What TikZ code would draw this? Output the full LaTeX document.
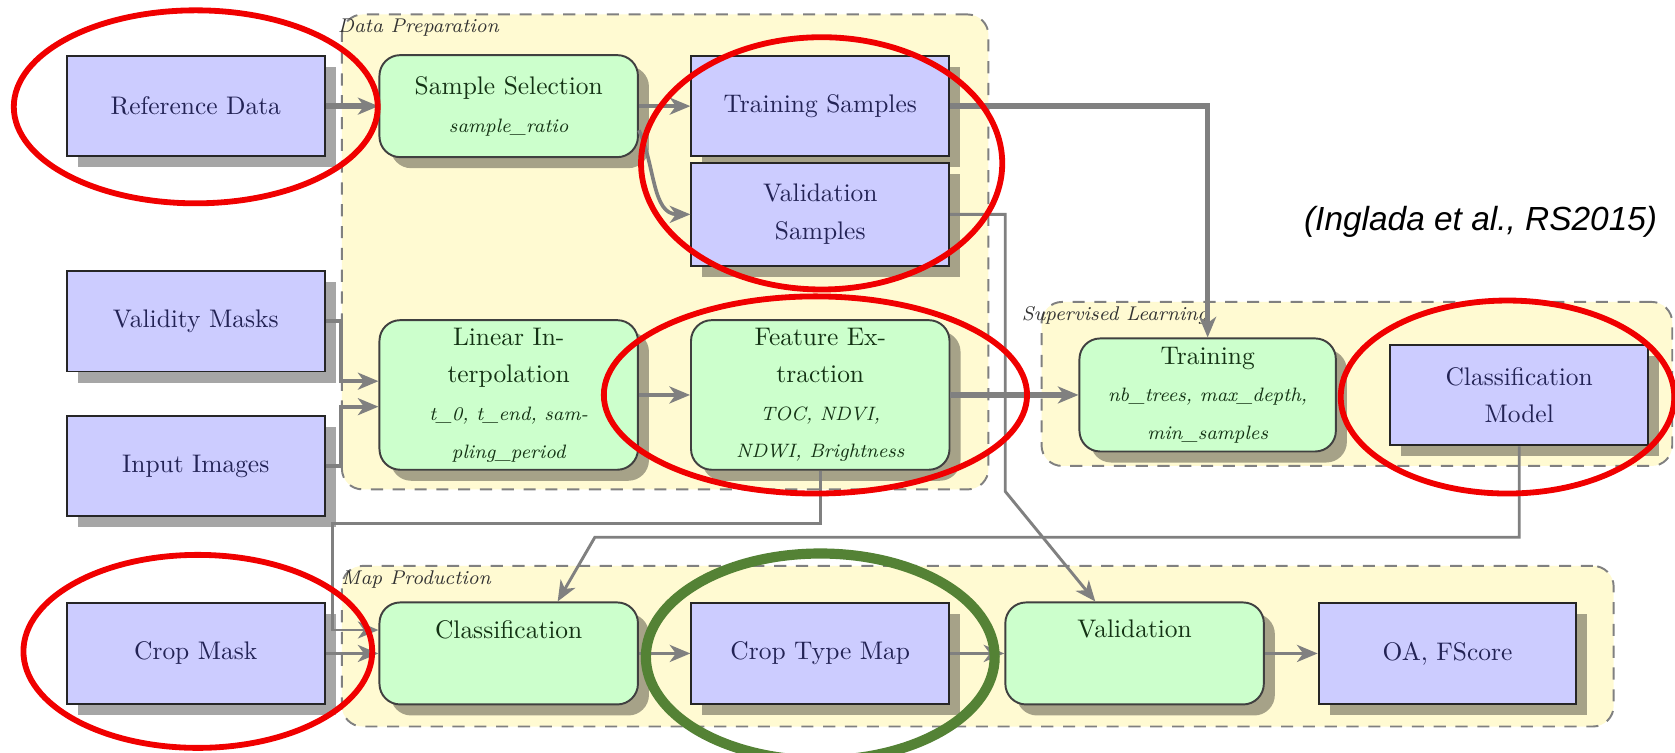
\documentclass[tikz,border=0pt]{standalone}
\usepackage{fontspec}
\newfontfamily\citefont{Liberation Sans}
\usetikzlibrary{arrows.meta,shadows}

\definecolor{boxblue}{RGB}{204,204,255}
\definecolor{boxgreen}{RGB}{204,255,204}
\definecolor{grpyellow}{RGB}{255,250,210}
\definecolor{linegray}{RGB}{128,128,128}
\definecolor{txtblue}{RGB}{35,35,85}
\definecolor{txtgreen}{RGB}{20,50,20}
\definecolor{markgreen}{RGB}{84,130,53}
\definecolor{markred}{RGB}{240,0,0}

\newcommand{\prm}[1]{{\fontsize{8}{15.5}\selectfont\itshape #1}}

\begin{document}
\begin{tikzpicture}[font=\fontsize{10.5}{15.5}\selectfont,
        boxshadow/.style={drop shadow={shadow xshift=.16cm,shadow yshift=-.16cm,fill=black,opacity=.35}},
        bluebox/.style={rectangle,draw=black!85,line width=.8pt,fill=boxblue,text=txtblue,align=center,minimum width=3.74cm,minimum height=1.46cm,inner sep=1pt,boxshadow},
        greenbox/.style={rectangle,rounded corners=.3cm,draw=black!75,line width=.8pt,fill=boxgreen,text=txtgreen,align=center,minimum width=3.75cm,minimum height=1.48cm,inner sep=1pt,boxshadow},
        grp/.style={rectangle,rounded corners=.3cm,draw=linegray,dash pattern=on 5pt off 4pt,line width=.8pt,fill=grpyellow},
        grplabel/.style={anchor=north west,inner sep=2pt,font=\fontsize{8.2}{9}\selectfont\itshape,text=black!80},
        conn/.style={draw=linegray,line width=1.5pt,-{Stealth[length=8.5pt,width=7pt,inset=2.5pt]}},
        ringred/.style={draw=markred,line width=2.4pt},
        ringgreen/.style={draw=markgreen,line width=4.2pt}]
        \useasboundingbox (0,0) rectangle (24.30,10.91);
        \draw (9.65,7.255) node[grp,minimum width=9.38cm,minimum height=6.89cm] (dataprep) {};
        \draw (19.685,5.34) node[grp,minimum width=9.15cm,minimum height=2.38cm] (suplearn) {};
        \draw (14.185,1.535) node[grp,minimum width=18.45cm,minimum height=2.33cm] (mapprod) {};
        \draw (dataprep.north west) node[grplabel,xshift=-.12cm] (dplabel) {Data Preparation};
        \draw (suplearn.north west) node[grplabel,xshift=-.35cm] (sllabel) {Supervised Learning};
        \draw (mapprod.north west) node[grplabel,xshift=-.07cm] (mplabel) {Map Production};
        \draw (2.84,9.37) node[bluebox] (refdata) {Reference Data};
        \draw (2.84,6.25) node[bluebox] (valmask) {Validity Masks};
        \draw (2.84,4.15) node[bluebox] (inimg) {Input Images};
        \draw (2.84,1.43) node[bluebox] (cropmask) {Crop Mask};
        \draw (7.38,9.37) node[greenbox] (samplesel) {Sample Selection\\\prm{sample\_ratio}};
        \draw (11.90,9.37) node[bluebox] (trainsmp) {Training Samples};
        \draw (11.90,7.80) node[bluebox,minimum height=1.49cm] (valsmp) {Validation\\Samples};
        \draw (7.38,5.18) node[greenbox,minimum height=2.17cm] (linint) {Linear In-\\terpolation\\\prm{t\_0, t\_end, sam-}\\\prm{pling\_period}};
        \draw (11.90,5.18) node[greenbox,minimum height=2.17cm] (featext) {Feature Ex-\\traction\\\prm{TOC, NDVI,}\\\prm{NDWI, Brightness}};
        \draw (17.52,5.18) node[greenbox,minimum width=3.72cm,minimum height=1.64cm] (training) {Training\\\prm{nb\_trees, max\_depth,}\\\prm{min\_samples}};
        \draw (22.04,5.18) node[bluebox] (clsmodel) {Classification\\Model};
        \draw (7.38,1.43) node[greenbox] (classif) {Classification\\\strut};
        \draw (11.90,1.43) node[bluebox] (croptype) {Crop Type Map};
        \draw (16.46,1.43) node[greenbox] (valid) {Validation\\\strut};
        \draw (21.00,1.43) node[bluebox] (oafs) {OA, FScore};
        \draw[conn,line width=2.2pt] (refdata) -- (samplesel);
        \draw[conn] (samplesel) -- (trainsmp);
        \draw[conn] ([yshift=-.35cm]samplesel.east) to[out=-65,in=180] (valsmp.west);
        \draw[conn] (valmask.east) -- ++(.22,0) |- ([yshift=.2cm]linint.west);
        \draw[conn] (inimg.east) -- ++(.22,0) |- ([yshift=-.17cm]linint.west);
        \draw[conn] (linint) -- (featext);
        \draw[conn,line width=2.2pt] (featext) -- (training);
        \draw[conn,line width=2.2pt] (trainsmp.east) -| (training.north);
        \draw[conn,line width=1.2pt] (valsmp.east) -- ++(.8,0) -- ++(0,-4.02) -- ([xshift=-.57cm]valid.north);
        \draw[conn,line width=1.2pt] (clsmodel.south) -- ++(0,-1.32) -- ++(-13.41,0) -- ([xshift=.71cm]classif.north);
        \draw[conn,line width=1.2pt] (featext.south) -- ++(0,-.77) -- ++(-7.07,0) |- ([yshift=.34cm]classif.west);
        \draw[conn] (cropmask) -- (classif);
        \draw[conn] (classif) -- (croptype);
        \draw[conn] (croptype) -- (valid);
        \draw[conn] (valid) -- (oafs);
        \draw (21.48,7.69) node[font=\citefont\fontsize{13.8}{16}\selectfont\itshape] (cite) {(Inglada et al., RS2015)};
        \draw[ringred] (2.84,9.36) ellipse [x radius=2.64cm,y radius=1.40cm];
        \draw[ringred] (11.92,8.54) ellipse [x radius=2.62cm,y radius=1.83cm];
        \draw[ringred] (11.83,5.18) ellipse [x radius=3.07cm,y radius=1.43cm];
        \draw[ringred] (21.87,5.15) ellipse [x radius=2.42cm,y radius=1.40cm];
        \draw[ringred] (2.87,1.46) ellipse [x radius=2.53cm,y radius=1.40cm];
        \draw[ringgreen] (11.90,1.38) ellipse [x radius=2.53cm,y radius=1.50cm];
        \end{tikzpicture}
\end{document}
